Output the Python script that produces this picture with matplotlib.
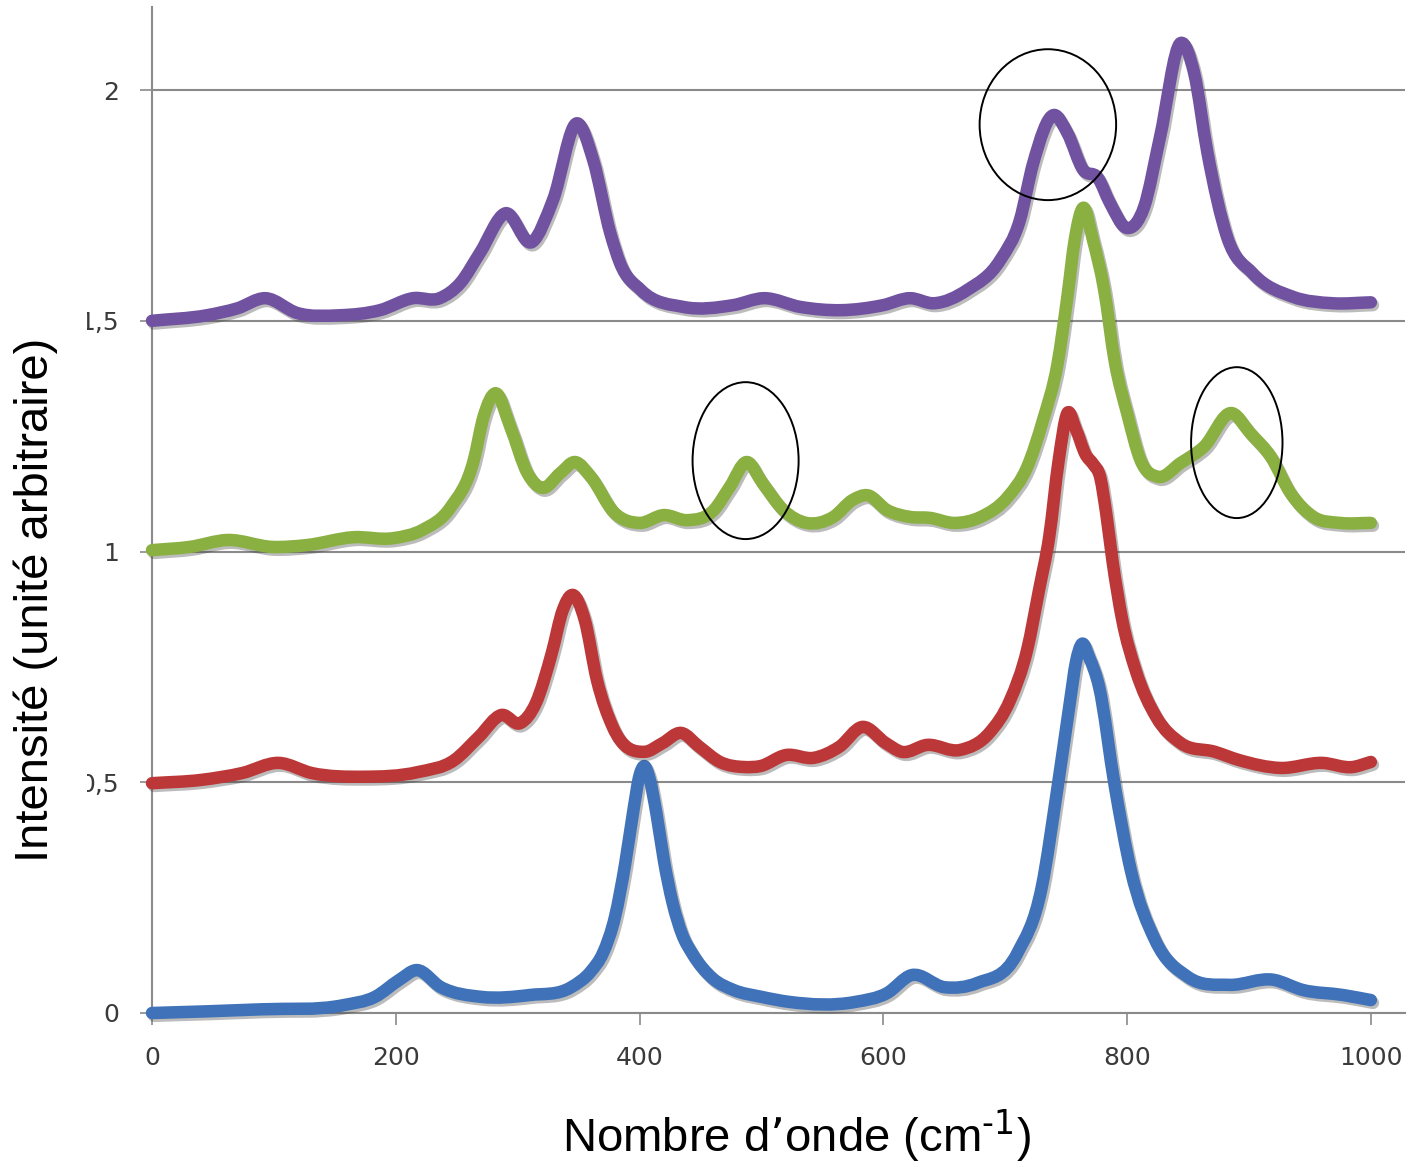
import numpy as np
import matplotlib
matplotlib.use("Agg")
import matplotlib.pyplot as plt
from matplotlib.path import Path
from matplotlib.patches import PathPatch, Ellipse, Rectangle
import matplotlib.patheffects as pe

plt.rcParams["mathtext.default"] = "regular"

# --- Spectra (wavenumber in cm-1, intensity in arbitrary units) ---
s1_x = [0, 90, 157, 183, 203, 217, 237, 270, 310, 344, 360, 370, 380, 388, 395,
        400, 404, 408, 414, 420, 427, 435, 443, 460, 477, 500, 523, 577, 603, 623,
        650, 677, 710, 730, 743, 753, 758, 763, 769, 777, 790, 803, 823, 850, 884,
        920, 944, 977, 1000]
s1_y = [0.000, 0.008, 0.017, 0.035, 0.072, 0.093, 0.056, 0.035, 0.039, 0.056,
        0.090, 0.130, 0.210, 0.320, 0.440, 0.515, 0.535, 0.510, 0.430, 0.330,
        0.240, 0.170, 0.130, 0.075, 0.050, 0.035, 0.024, 0.024, 0.043, 0.082,
        0.056, 0.065, 0.130, 0.273, 0.490, 0.672, 0.760, 0.800, 0.770, 0.707,
        0.490, 0.310, 0.158, 0.078, 0.061, 0.072, 0.050, 0.039, 0.028]

s2_x = [0, 40, 74, 104, 131, 174, 218, 248, 268, 287, 302, 315, 328, 337, 345,
        355, 365, 378, 404, 419, 434, 449, 466, 486, 499, 520, 543, 564, 583, 602,
        615, 636, 663, 687, 704, 718, 728, 736, 744, 751, 758, 766, 772, 778, 783,
        788, 796, 807, 824, 844, 872, 892, 926, 960, 985, 1000]
s2_y = [0.498, 0.505, 0.520, 0.542, 0.520, 0.512, 0.522, 0.548, 0.598, 0.646,
        0.628, 0.672, 0.780, 0.873, 0.906, 0.852, 0.722, 0.620, 0.566, 0.585,
        0.607, 0.577, 0.544, 0.533, 0.535, 0.559, 0.553, 0.577, 0.620, 0.585,
        0.566, 0.581, 0.570, 0.607, 0.678, 0.787, 0.920, 1.030, 1.200, 1.300,
        1.265, 1.210, 1.190, 1.160, 1.080, 0.980, 0.852, 0.743, 0.641, 0.585,
        0.566, 0.548, 0.531, 0.542, 0.533, 0.544]

s3_x = [0, 31, 62, 99, 127, 165, 198, 222, 245, 264, 272, 282, 294, 308, 320,
        335, 347, 360, 379, 400, 420, 439, 461, 474, 488, 501, 518, 537, 559, 575,
        587, 603, 622, 638, 658, 680, 702, 718, 731, 743, 751, 757, 764, 772, 781,
        790, 800, 811, 825, 844, 863, 886, 901, 918, 934, 953, 975, 1000]
s3_y = [1.003, 1.010, 1.025, 1.010, 1.014, 1.031, 1.029, 1.047, 1.096, 1.198,
        1.292, 1.343, 1.270, 1.170, 1.138, 1.170, 1.194, 1.162, 1.085, 1.062,
        1.079, 1.068, 1.090, 1.140, 1.194, 1.148, 1.090, 1.062, 1.075, 1.112,
        1.122, 1.090, 1.075, 1.073, 1.062, 1.075, 1.118, 1.183, 1.285, 1.408,
        1.552, 1.675, 1.745, 1.675, 1.570, 1.410, 1.300, 1.198, 1.162, 1.192,
        1.227, 1.300, 1.257, 1.205, 1.127, 1.075, 1.062, 1.062]

s4_x = [0, 45, 70, 93, 119, 154, 187, 214, 236, 253, 269, 290, 312, 329, 349,
        362, 376, 384, 401, 436, 477, 502, 532, 565, 600, 622, 641, 669, 696, 712,
        723, 740, 751, 764, 776, 786, 800, 814, 827, 844, 855, 866, 882, 903, 936,
        969, 1000]
s4_y = [1.500, 1.512, 1.527, 1.549, 1.517, 1.512, 1.523, 1.549, 1.549, 1.582,
        1.647, 1.733, 1.671, 1.762, 1.928, 1.848, 1.690, 1.625, 1.567, 1.530,
        1.534, 1.549, 1.530, 1.523, 1.534, 1.549, 1.538, 1.567, 1.632, 1.718,
        1.842, 1.946, 1.907, 1.827, 1.810, 1.755, 1.701, 1.747, 1.898, 2.102,
        2.037, 1.863, 1.682, 1.603, 1.552, 1.538, 1.540]

series = [
    (s1_x, s1_y, "#3F72B8"),
    (s2_x, s2_y, "#BC3838"),
    (s3_x, s3_y, "#8AB042"),
    (s4_x, s4_y, "#7052A0"),
]

x_ticks = [0, 200, 400, 600, 800, 1000]
x_tick_labels = ["0", "200", "400", "600", "800", "1000"]
y_ticks = [0, 0.5, 1, 1.5, 2]
y_tick_labels = ["0", "0,5", "1", "1,5", "2"]

# Highlighted bands: (centre x, centre y, width, height)
highlights = [
    (735, 1.925, 112, 0.327),
    (487, 1.197, 87, 0.340),
    (890, 1.236, 75, 0.327),
]


def smooth_path(xs, ys):
    """Smoothed line: cubic Bezier segments through every point, with the
    tangent at each point taken from the parabola through its neighbours."""
    x = np.asarray(xs, float)
    y = np.asarray(ys, float)
    n = len(x)
    h = np.diff(x)
    d = np.diff(y) / h
    s = np.zeros(n)
    s[0] = d[0]
    s[-1] = d[-1]
    for i in range(1, n - 1):
        s[i] = (h[i - 1] * d[i] + h[i] * d[i - 1]) / (h[i - 1] + h[i])
    verts = [(x[0], y[0])]
    codes = [Path.MOVETO]
    for i in range(n - 1):
        verts += [(x[i] + h[i] / 3, y[i] + s[i] * h[i] / 3),
                  (x[i + 1] - h[i] / 3, y[i + 1] - s[i + 1] * h[i] / 3),
                  (x[i + 1], y[i + 1])]
        codes += [Path.CURVE4] * 3
    return Path(verts, codes)


W, H = 1409, 1167
fig = plt.figure(figsize=(W / 100, H / 100), dpi=100)
fig.patch.set_facecolor("white")
ax = fig.add_axes([152 / W, 1 - 1013 / H, (1405 - 152) / W, (1013 - 7) / H])
ax.set_xlim(0, 1028)
ax.set_ylim(0, 2.18)

grid_col = "#8a8a8a"
ax.yaxis.grid(True, color=grid_col, lw=1.5)
ax.set_axisbelow(True)
for side in ("top", "right"):
    ax.spines[side].set_visible(False)
for side in ("left", "bottom"):
    ax.spines[side].set_color(grid_col)
    ax.spines[side].set_linewidth(1.5)

ax.set_xticks(x_ticks)
ax.set_xticklabels(x_tick_labels)
ax.set_yticks(y_ticks)
ax.set_yticklabels(y_tick_labels)
ax.tick_params(axis="both", direction="out", length=8.6, width=1.2,
               color=grid_col, labelsize=18, labelcolor="#3a3a3a", pad=15)

for k, (xs, ys, col) in enumerate(series):
    patch = PathPatch(smooth_path(xs, ys), fill=False, edgecolor=col, lw=9,
                      capstyle="round", joinstyle="round",
                      transform=ax.transData, clip_on=False, zorder=3 + k)
    patch.set_path_effects([
        pe.SimpleLineShadow(offset=(1.5, -2), shadow_color="#404040",
                            alpha=0.35),
        pe.Normal(),
    ])
    ax.add_patch(patch)

for cx, cy, w, h in highlights:
    ax.add_patch(Ellipse((cx, cy), w, h, fill=False, edgecolor="black",
                         lw=1.4, zorder=10, clip_on=False))

# Left margin band trimming the tick labels
fig.add_artist(Rectangle((0, 0), 87 / W, 1, transform=fig.transFigure,
                         facecolor="white", edgecolor="none", zorder=1))

fig.text(36 / W, 1 - 600 / H, "Intensité (unité arbitraire)", rotation=90,
         ha="center", va="center", fontsize=34, family="Liberation Sans",
         color="black", zorder=3)
fig.text(796 / W, 1 - 1152 / H, r"Nombre d’onde (cm$^{\text{-1}}$)",
         ha="center", va="baseline", fontsize=34, family="Liberation Sans",
         color="black", zorder=3)

fig.savefig("out.png", dpi=100)
